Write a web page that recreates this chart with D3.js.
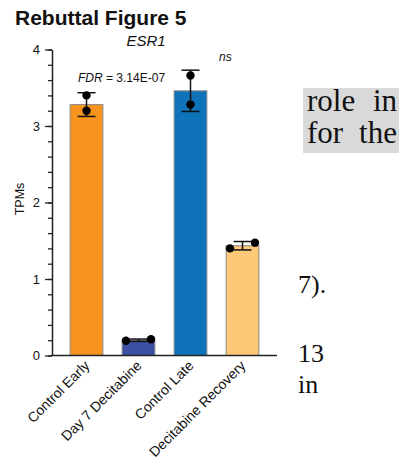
<!DOCTYPE html>
<html><head><meta charset="utf-8">
<script src="https://cdn.jsdelivr.net/npm/d3@7"></script>
<style>body{margin:0;background:#fff}svg{display:block}</style>
</head><body>
<svg id="c" width="405" height="459"></svg>
<script>
const categories = ["Control Early","Day 7 Decitabine","Control Late","Decitabine Recovery"];
const means = [3.28, 0.20, 3.46, 1.435];
const sds = [0.155, 0.015, 0.27, 0.055];
const rep1 = [3.40, 0.193, 3.66, 1.40];
const rep2 = [3.20, 0.212, 3.28, 1.475];
const colors = ["#F7941D","#3C51A3","#0F73BA","#FDC878"];
const yTicks = [0,1,2,3,4];
const sideLines = [["role in",111,true],["for the",143,true],["7).",293,false],["13",362,false],["in",393,false]];

const svg = d3.select("#c");
const font = "'Liberation Sans', Arial, sans-serif";
const y = d3.scaleLinear().domain([0,4]).range([355.5,49.5]);
const x = d3.scaleBand().domain(categories).range([60.5,268.5]).paddingInner(0.37).paddingOuter(0.185);

// side text box
svg.append("rect").attr("x",303).attr("y",88).attr("width",96).attr("height",65).attr("fill","#d9d9d9");
svg.selectAll("text.side").data(sideLines).enter().append("text")
  .attr("x",d=>d[2]?307:298).attr("y",d=>d[1]).text(d=>d[0])
  .attr("font-family","'Liberation Serif','Times New Roman',serif").attr("font-size",d=>d[2]?31:26)
  .attr("fill","#111")
  .each(function(d){
    if(d[2]){
      const len = this.getComputedTextLength();
      d3.select(this).attr("word-spacing", Math.max(0, 90-len));
    }
  });

// title
svg.append("text").attr("x",15).attr("y",25).text("Rebuttal Figure 5")
  .attr("font-family",font).attr("font-weight","bold").attr("font-size",21).attr("fill","#111");
svg.append("text").attr("x",146).attr("y",46).attr("text-anchor","middle").text("ESR1")
  .attr("font-family",font).attr("font-style","italic").attr("font-size",15).attr("fill","#111");

// bars
const g = svg.append("g");
g.selectAll("rect.bar").data(categories).enter().append("rect")
  .attr("x",d=>x(d)).attr("width",x.bandwidth())
  .attr("y",(d,i)=>y(means[i])).attr("height",(d,i)=>y(0)-y(means[i]))
  .attr("fill",(d,i)=>colors[i]).attr("stroke","#8a8a8a").attr("stroke-width",1);

// error bars
categories.forEach((c,i)=>{
  const cx = x(c)+x.bandwidth()/2;
  const top = y(means[i]+sds[i]), bot = y(means[i]-sds[i]);
  g.append("line").attr("x1",cx).attr("x2",cx).attr("y1",top).attr("y2",bot).attr("stroke","#111").attr("stroke-width",1.5);
  [top,bot].forEach(v=>g.append("line").attr("x1",cx-9).attr("x2",cx+9).attr("y1",v).attr("y2",v).attr("stroke","#111").attr("stroke-width",1.5));
});

// points (spread horizontally when overlapping)
const r = 4.2;
categories.forEach((c,i)=>{
  const cx = x(c)+x.bandwidth()/2;
  const pts = [rep1[i],rep2[i]].sort((a,b)=>a-b);
  const overlap = Math.abs(y(pts[0])-y(pts[1])) < 2*r;
  pts.forEach((v,j)=>{
    g.append("circle").attr("cx", overlap ? cx + (j===0?-12.5:12.5) : cx).attr("cy",y(v)).attr("r",r).attr("fill","#000");
  });
});

// y axis
const yAxis = d3.axisLeft(y).tickValues(d3.range(0,4.001,0.2)).tickFormat(d=>"").tickSize(4).tickSizeOuter(0);
const ya = svg.append("g").attr("transform","translate(52,0)").call(yAxis);
ya.selectAll("line").attr("stroke","#222").attr("stroke-width",1.3);
ya.select(".domain").attr("stroke","#222").attr("stroke-width",1.5);
const yMaj = d3.axisLeft(y).tickValues(yTicks).tickFormat(d3.format("d")).tickSize(7).tickPadding(5).tickSizeOuter(0);
const ym = svg.append("g").attr("transform","translate(52,0)").call(yMaj);
ym.select(".domain").remove();
ym.selectAll("line").attr("stroke","#222").attr("stroke-width",1.3);
ym.selectAll("text").attr("font-family",font).attr("font-size",13).attr("fill","#111");

svg.append("text").attr("transform","translate(24,199) rotate(-90)").attr("text-anchor","middle")
  .text("TPMs").attr("font-family",font).attr("font-size",12.5).attr("fill","#111");

// x axis
svg.append("line").attr("x1",51).attr("x2",277).attr("y1",y(0)).attr("y2",y(0)).attr("stroke","#222").attr("stroke-width",1.5);
svg.selectAll("text.xl").data(categories).enter().append("text")
  .attr("transform",d=>`translate(${x(d)+x.bandwidth()/2-3},${y(0)+4}) rotate(-45)`)
  .attr("text-anchor","end").attr("dy","0.7em").text(d=>d)
  .attr("font-family",font).attr("font-size",14).attr("fill","#111");

// annotations
const fdr = svg.append("text").attr("x",78).attr("y",82).attr("font-family",font).attr("font-size",12).attr("fill","#111");
fdr.append("tspan").attr("font-style","italic").text("FDR");
fdr.append("tspan").text(" = 3.14E-07");
svg.append("text").attr("x",219).attr("y",61).text("ns").attr("font-family",font).attr("font-style","italic").attr("font-size",12).attr("fill","#111");
</script>
</body></html>
